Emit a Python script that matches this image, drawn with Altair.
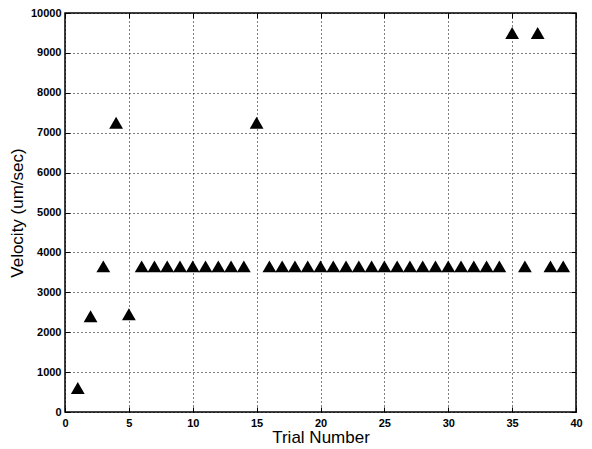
import altair as alt
import pandas as pd

trials = list(range(1, 40))
velocity = [600, 2400, 3650, 7250, 2450, 3650, 3650, 3650, 3650, 3650,
            3650, 3650, 3650, 3650, 7250, 3650, 3650, 3650, 3650, 3650,
            3650, 3650, 3650, 3650, 3650, 3650, 3650, 3650, 3650, 3650,
            3650, 3650, 3650, 3650, 9500, 3650, 9500, 3650, 3650]
x_ticks = [0, 5, 10, 15, 20, 25, 30, 35, 40]
y_ticks = [0, 1000, 2000, 3000, 4000, 5000, 6000, 7000, 8000, 9000, 10000]

df = pd.DataFrame({"trial": trials, "velocity": velocity})

FONT = "Liberation Sans"
xs = alt.Scale(domain=[0, 40], nice=False, zero=False)
ys = alt.Scale(domain=[0, 10000], nice=False)

common = dict(domain=False, tickSize=5, offset=-5, tickColor="black", tickWidth=1)

points = alt.Chart(df).mark_point(
    shape="triangle-up", filled=True, color="black", size=190, opacity=1
).encode(
    x=alt.X("trial:Q", scale=xs, axis=alt.Axis(
        orient="bottom", values=x_ticks, format="d", title="Trial Number", grid=True,
        gridColor="black", gridDash=[1, 3], gridWidth=1, gridOpacity=1,
        labelFont=FONT, labelFontWeight="bold", labelFontSize=11, labelColor="black",
        labelPadding=5, labelFlush=False, titleFont=FONT, titleFontWeight="normal",
        titleFontSize=17, titleColor="black", titlePadding=1, **common)),
    y=alt.Y("velocity:Q", scale=ys, axis=alt.Axis(
        orient="left", values=y_ticks, format="d", title="Velocity (um/sec)", grid=True,
        gridColor="black", gridDash=[1, 3], gridWidth=1, gridOpacity=1,
        labelFont=FONT, labelFontWeight="bold", labelFontSize=11, labelColor="black",
        labelPadding=4, labelFlush=False, titleFont=FONT, titleFontWeight="normal",
        titleFontSize=17, titleColor="black", titlePadding=4, **common)),
)

frame = alt.Chart(df).mark_point(opacity=0).encode(
    x=alt.X("trial:Q", scale=xs, axis=alt.Axis(
        orient="top", values=x_ticks, title=None, labels=False, grid=False, **common)),
    y=alt.Y("velocity:Q", scale=ys, axis=alt.Axis(
        orient="right", values=y_ticks, title=None, labels=False, grid=False, **common)),
)

chart = alt.layer(points, frame).resolve_axis(
    x="independent", y="independent"
).properties(
    width=511, height=399,
    autosize=alt.AutoSizeParams(type="none"),
    padding={"left": 57, "top": 5, "right": 8, "bottom": 38},
    background="white",
).configure_view(stroke="black", strokeWidth=1.5)

chart.save("out.html", embed_options={"renderer": "svg", "actions": False})
